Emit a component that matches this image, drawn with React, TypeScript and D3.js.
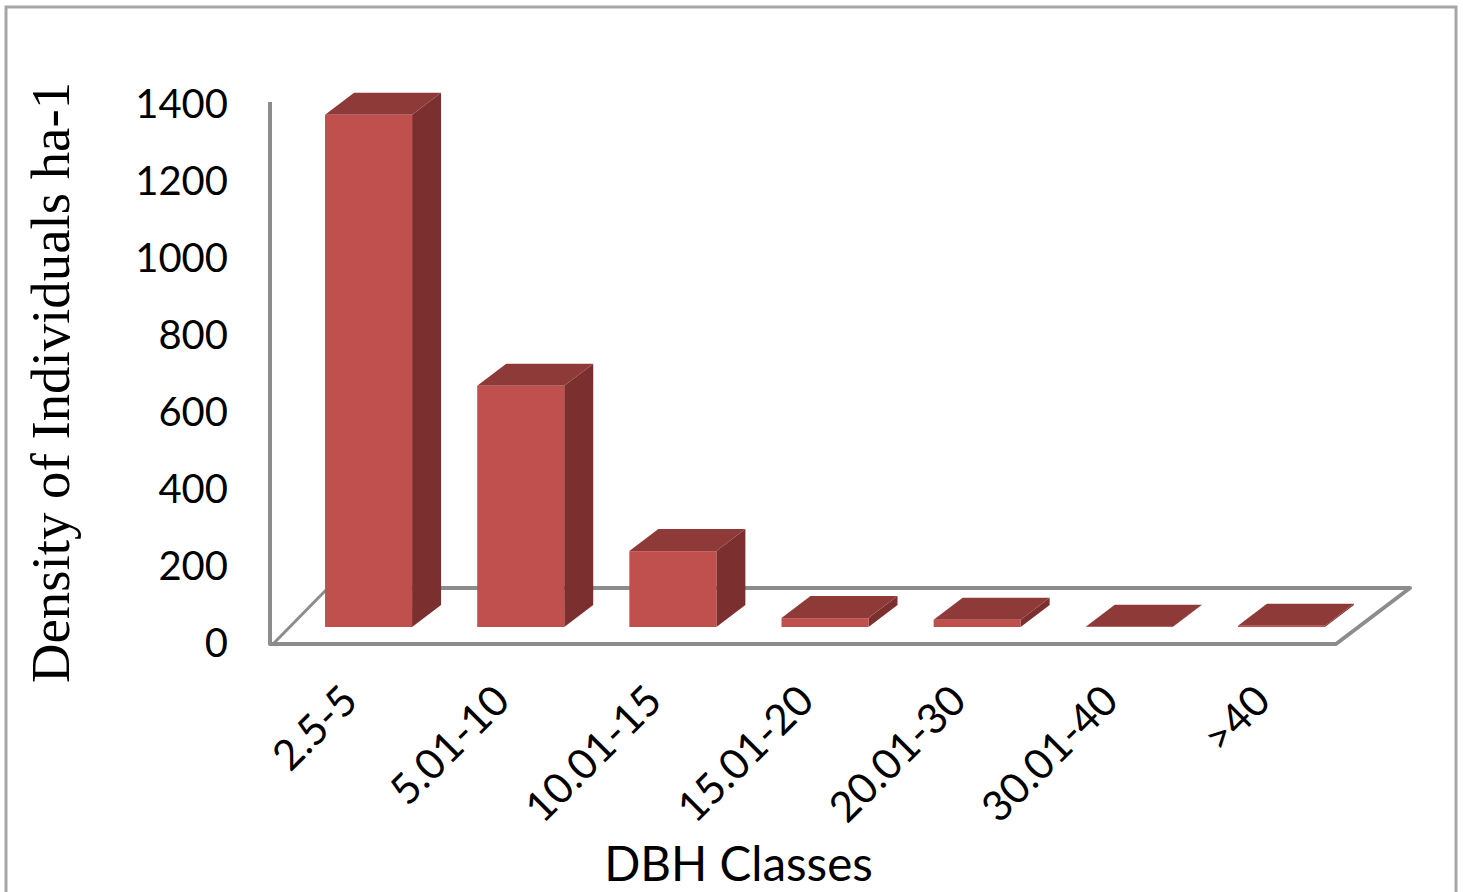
import React from "react";
import * as d3 from "d3";

const categories = ["2.5-5", "5.01-10", "10.01-15", "15.01-20", "20.01-30", "30.01-40", ">40"];
const densities = [1323, 623, 196, 23, 19, 0.5, 3];
const yTicks = [0, 200, 400, 600, 800, 1000, 1200, 1400];

const FRONT_COLOR = "#c0504d";
const TOP_COLOR = "#8e3a38";
const SIDE_COLOR = "#7b2f2e";
const WALL_COLOR = "#8c8c8c";

const DEPTH_X = 29;
const DEPTH_Y = 22;

const wallX = 270;
const floorFrontY = 644;
const wallTopY = 102;
const floorRightX = 1336;
const floorBack = { dx: 74, dy: 56 };

const x = d3.scaleBand<string>().domain(categories).range([292.5, 1357.5]).paddingInner(0.428).paddingOuter(0.214);
// The bars stand inset from the front edge of the floor, at the same vertical scale as the wall.
const yWall = d3.scaleLinear().domain([0, 1400]).range([floorFrontY, wallTopY]);
const yBar = d3.scaleLinear().domain([0, 1400]).range([627, 627 - (floorFrontY - wallTopY)]);
const yLabel = d3.scaleLinear().domain([0, 1400]).range([642, 103]);

const poly = (pts: [number, number][]) => pts.map((p) => p.join(",")).join(" ");

export default function App() {
  const floorPath = d3.line()([
    [wallX + floorBack.dx - 16, floorFrontY - floorBack.dy],
    [floorRightX + floorBack.dx, floorFrontY - floorBack.dy],
    [floorRightX, floorFrontY],
    [wallX, floorFrontY],
    [wallX, yWall(1400)],
  ]) as string;
  const floorEdge = d3.line()([
    [wallX + 3, floorFrontY],
    [wallX + floorBack.dx - 16, floorFrontY - floorBack.dy],
  ]) as string;

  return (
    <svg
      width={1463}
      height={892}
      viewBox="0 0 1463 892"
      style={{ position: "fixed", left: 0, top: 0, background: "#fff" }}
    >
      <rect x={6} y={7} width={1450} height={900} fill="#fff" stroke="#a6a6a6" strokeWidth={3} />

      <path d={floorPath} fill="none" stroke={WALL_COLOR} strokeWidth={4} strokeLinejoin="round" />
      <path d={floorEdge} fill="none" stroke={WALL_COLOR} strokeWidth={3} />

      {categories.map((c, i) => {
        const x0 = x(c) as number;
        const x1 = x0 + x.bandwidth();
        const yb = yBar(0);
        const yt = yBar(densities[i]);
        return (
          <g key={c}>
            <polygon
              points={poly([[x1, yt], [x1 + DEPTH_X, yt - DEPTH_Y], [x1 + DEPTH_X, yb - DEPTH_Y], [x1, yb]])}
              fill={SIDE_COLOR}
            />
            <polygon
              points={poly([[x0, yt], [x0 + DEPTH_X, yt - DEPTH_Y], [x1 + DEPTH_X, yt - DEPTH_Y], [x1, yt]])}
              fill={TOP_COLOR}
            />
            <rect x={x0} y={yt} width={x.bandwidth()} height={yb - yt} fill={FRONT_COLOR} />
          </g>
        );
      })}

      {yTicks.map((t) => (
        <text
          key={t}
          x={228}
          y={yLabel(t)}
          textAnchor="end"
          dominantBaseline="central"
          fontFamily="Lato"
          fontSize={40}
          fill="#000"
        >
          {t}
        </text>
      ))}

      {categories.map((c) => {
        const cx = (x(c) as number) + x.bandwidth() / 2;
        return (
          <text
            key={c}
            transform={`translate(${cx - 20},692) rotate(-45)`}
            textAnchor="end"
            dominantBaseline="central"
            fontFamily="Lato"
            fontSize={42}
            fill="#000"
          >
            {c}
          </text>
        );
      })}

      <text x={738.5} y={881} textAnchor="middle" fontFamily="Lato" fontSize={47.5} fill="#000">
        DBH Classes
      </text>
      <text
        transform="translate(69,382.5) rotate(-90)"
        textAnchor="middle"
        fontFamily="Liberation Serif"
        fontSize={54.8}
        fill="#000"
      >
        Density of Individuals ha-1
      </text>
    </svg>
  );
}
